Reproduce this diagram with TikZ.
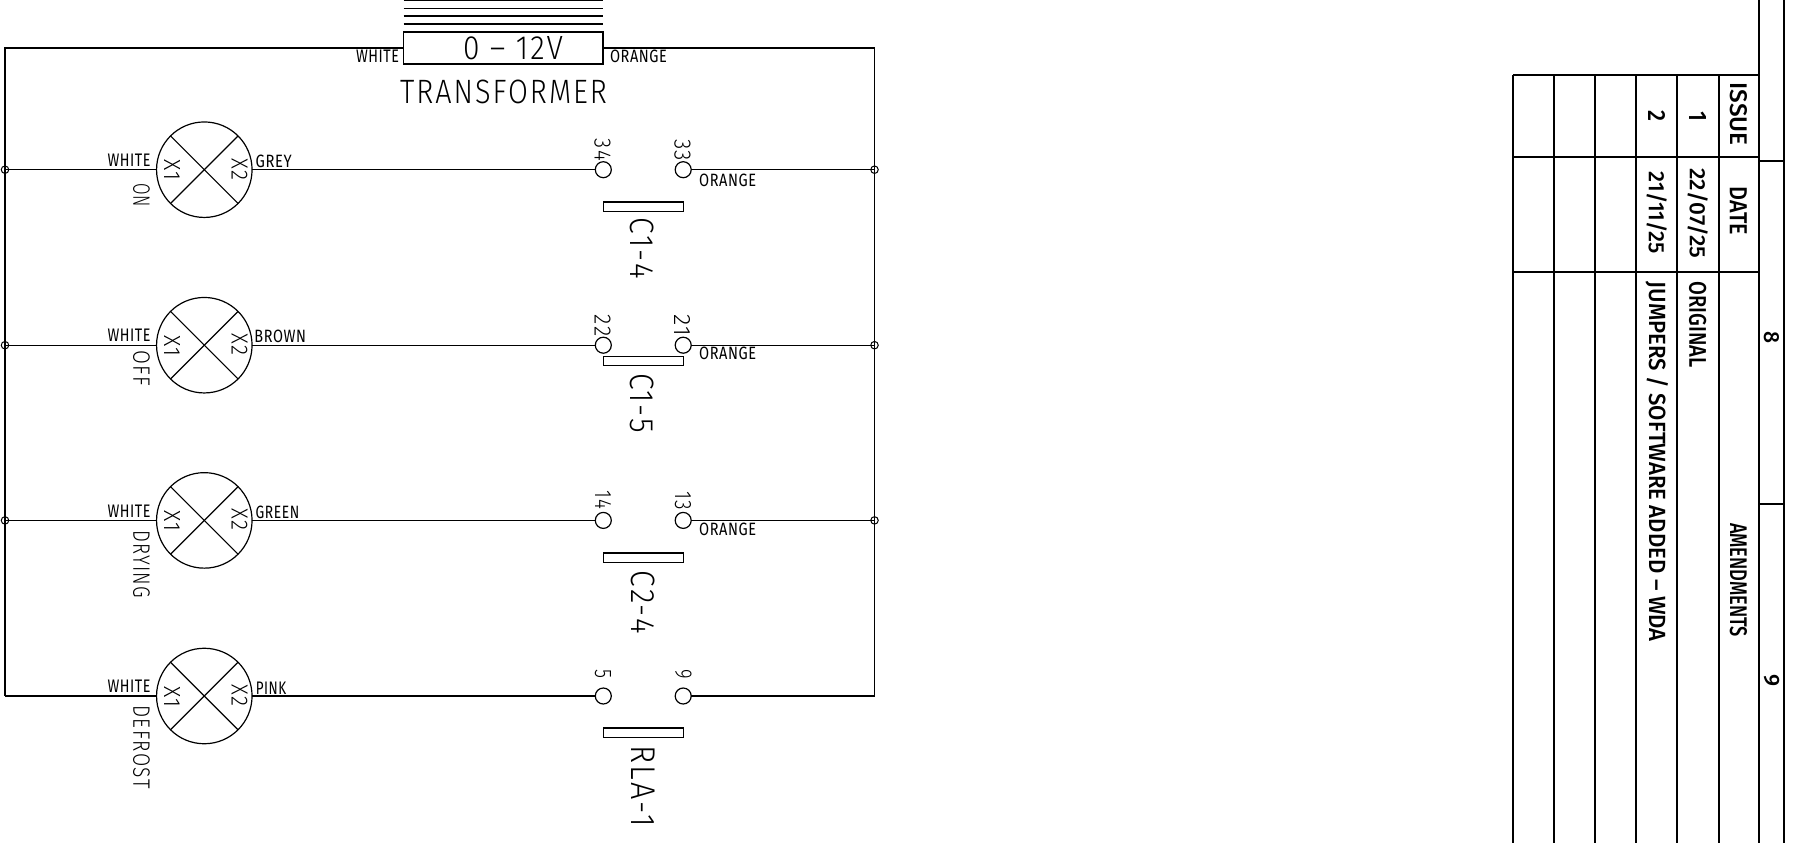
\documentclass[tikz,border=0pt]{standalone}
\usepackage{fontspec}
\usepackage{graphicx}
\setmainfont{Fira Sans}[LetterSpace=4]
\newfontfamily\thinf{Fira Sans Light}[LetterSpace=7]
\newfontfamily\tblf{Fira Sans Medium}
\newcommand{\fitt}[3]{\resizebox{#1pt}{#2pt}{#3}}
\begin{document}
\begin{tikzpicture}[x=1pt,y=-1pt,
  wire/.style={line width=1.3pt,black},
  frameline/.style={line width=2.1pt,black},
  lamp/.style={circle,draw,line width=1.2pt,minimum size=95.5pt,inner sep=0,outer sep=0},
  contact/.style={circle,draw,line width=1.2pt,minimum size=16pt,inner sep=0,outer sep=0},
  junction/.style={circle,draw,line width=1pt,minimum size=7.5pt,inner sep=0,outer sep=0},
  bar/.style={draw,line width=1.2pt,minimum width=80pt,minimum height=9.2pt,inner sep=0,outer sep=0},
  txt/.style={inner sep=0,outer sep=0,anchor=center},
  vtxt/.style={txt,rotate=-90},
  tbl/.style={vtxt,font=\tblf}]
\useasboundingbox (0,0) rectangle (1798,843);
% transformer
\node[draw,line width=1.3pt,minimum width=199.5pt,minimum height=32pt,inner sep=0,outer sep=0] (tr) at (503.3,48) {};
\foreach \n/\y in {a/0.7,b/8.3,c/16,d/24}{
  \coordinate (h\n l) at (403.5,\y);
  \coordinate (h\n r) at (603,\y);
  \draw[wire] (h\n l) -- (h\n r);
}
\node[txt] (trv) at (513,48.2) {\fitt{100}{23}{\thinf 0 – 12V}};
\node[txt] (trn) at (503.5,92) {\fitt{207}{23.5}{\thinf TRANSFORMER}};
\node[txt] (trw) at (377.5,56.7) {\fitt{43}{12.5}{WHITE}};
\node[txt] (tro) at (638.5,56.8) {\fitt{57}{12.5}{ORANGE}};
% rails
\node[junction] (jl1) at (5,169.7) {};
\node[junction] (jl2) at (5,345.2) {};
\node[junction] (jl3) at (5,520.4) {};
\coordinate (cl4) at (5,696);
\coordinate (cl0) at (5,48);
\node[junction] (jr1) at (874.5,169.7) {};
\node[junction] (jr2) at (874.5,345.2) {};
\node[junction] (jr3) at (874.5,520.4) {};
\coordinate (cr4) at (874.5,696);
\coordinate (cr0) at (874.5,48);
\draw[wire] (tr.west |- cl0) -- (cl0) -- (jl1.center) -- (jl2.center) -- (jl3.center) -- (cl4);
\draw[wire] (tr.east |- cr0) -- (cr0) -- (jr1.center) -- (jr2.center) -- (jr3.center) -- (cr4);
% lamps
\foreach \i/\y in {1/169.7,2/345.2,3/520.4,4/696}{
  \node[lamp] (lamp\i) at (204.3,\y) {};
  \draw[line width=1.2pt] (lamp\i.north west) -- (lamp\i.south east);
  \draw[line width=1.2pt] (lamp\i.south west) -- (lamp\i.north east);
  \node[contact] (cta\i) at (603.3,\y) {};
  \node[contact] (ctb\i) at (683.2,\y) {};
  \draw[wire] (lamp\i) -- (cta\i);
  \node[vtxt] (xa\i) at (172,\y+0.6) {\fitt{21}{16}{\thinf X1}};
  \node[vtxt] (xb\i) at (239.5,\y-0.7) {\fitt{22}{16}{\thinf X2}};
  \node[txt] (wh\i) at (129,\y-9.6) {\fitt{43}{12.5}{WHITE}};
}
\draw[wire] (jl1.center) -- (lamp1);
\draw[wire] (jl2.center) -- (lamp2);
\draw[wire] (jl3.center) -- (lamp3);
\draw[wire] (cl4) -- (lamp4);
\draw[wire] (ctb1) -- (jr1.center);
\draw[wire] (ctb2) -- (jr2.center);
\draw[wire] (ctb3) -- (jr3.center);
\draw[wire] (ctb4) -- (cr4);
% wire labels
\node[txt] (lgrey) at (273.7,161) {\fitt{36}{12.5}{GREY}};
\node[txt] (lbrown) at (280.2,336.5) {\fitt{51.5}{12.5}{BROWN}};
\node[txt] (lgreen) at (277.5,512.5) {\fitt{43.6}{12.5}{GREEN}};
\node[txt] (lpink) at (271,688) {\fitt{30.4}{12.5}{PINK}};
\node[txt] (or1) at (727.7,180) {\fitt{57}{12.5}{ORANGE}};
\node[txt] (or2) at (727.7,353.5) {\fitt{57}{12.5}{ORANGE}};
\node[txt] (or3) at (727.7,529.5) {\fitt{57}{12.5}{ORANGE}};
% lamp names
\node[vtxt] (non) at (141.5,195) {\fitt{24}{16.5}{\thinf ON}};
\node[vtxt] (noff) at (141.5,368) {\fitt{36}{16.5}{\thinf OFF}};
\node[vtxt] (ndry) at (141.5,564.3) {\fitt{68}{16.5}{\thinf DRYING}};
\node[vtxt] (ndef) at (141.5,747) {\fitt{83}{16.5}{\thinf DEFROST}};
% contact bars
\node[bar] (b1) at (643.2,206.5) {};
\node[bar] (b2) at (643.2,361) {};
\node[bar] (b3) at (643.2,557.5) {};
\node[bar] (b4) at (643.2,732.5) {};
\node[vtxt] (c14) at (642.5,248.5) {\fitt{61}{23.5}{\thinf C1-4}};
\node[vtxt] (c15) at (642.5,403) {\fitt{60}{23.5}{\thinf C1-5}};
\node[vtxt] (c24) at (643.5,602.3) {\fitt{63.3}{23.5}{\thinf C2-4}};
\node[vtxt] (rla) at (643.5,786.2) {\fitt{81}{23.5}{\thinf RLA-1}};
% terminals
\node[vtxt] (t34) at (602.5,150) {\fitt{22}{16}{\thinf 34}};
\node[vtxt] (t33) at (682.5,150) {\fitt{22}{16}{\thinf 33}};
\node[vtxt] (t22) at (602.5,325.5) {\fitt{22}{16}{\thinf 22}};
\node[vtxt] (t21) at (682.5,325.5) {\fitt{22}{16}{\thinf 21}};
\node[vtxt] (t14) at (603,500) {\fitt{19}{16}{\thinf 14}};
\node[vtxt] (t13) at (683,500.5) {\fitt{19}{16}{\thinf 13}};
\node[vtxt] (t5) at (603,674) {\fitt{9}{16}{\thinf 5}};
\node[vtxt] (t9) at (683.5,674.5) {\fitt{9.5}{16}{\thinf 9}};
% title block
\foreach \n/\x in {a/1513.3,b/1554.3,c/1595.3,d/1636.3,e/1677.3,f/1718.7}{
  \coordinate (v\n t) at (\x,75);
  \coordinate (v\n b) at (\x,843);
  \draw[frameline] (v\n t) -- (v\n b);
}
\coordinate (vgt) at (1759.3,0);
\coordinate (vgb) at (1759.3,843);
\coordinate (vht) at (1783.7,0);
\coordinate (vhb) at (1783.7,843);
\draw[frameline] (vgt) -- (vgb);
\draw[frameline] (vht) -- (vhb);
\foreach \y in {75,156.7,271.7}{
  \draw[frameline] (vat |- 0,\y) -- (vgt |- 0,\y);
}
\foreach \y in {160.7,504.3}{
  \draw[frameline] (vgt |- 0,\y) -- (vht |- 0,\y);
}
\node[tbl] (issue) at (1738.3,114) {\fitt{63}{17}{ISSUE}};
\node[tbl] (date) at (1738.3,211) {\fitt{48}{17}{DATE}};
\node[tbl] (amend) at (1738.3,580) {\fitt{114}{17}{AMENDMENTS}};
\node[tbl] (n1) at (1697.7,116.5) {\fitt{10}{17}{1}};
\node[tbl] (n2) at (1656.7,116) {\fitt{11}{17}{2}};
\node[tbl] (d1) at (1697.7,213.5) {\fitt{90}{18}{22/07/25}};
\node[tbl] (d2) at (1656.7,213) {\fitt{82}{18}{21/11/25}};
\node[tbl] (orig) at (1697.7,324.5) {\fitt{86}{17}{ORIGINAL}};
\node[tbl] (jump) at (1656.7,461.7) {\fitt{360}{19}{JUMPERS / SOFTWARE ADDED – WDA}};
\node[tbl] (s8) at (1771.5,337) {\fitt{12}{15}{8}};
\node[tbl] (s9) at (1771.5,680) {\fitt{12}{15}{9}};
\end{tikzpicture}
\end{document}
